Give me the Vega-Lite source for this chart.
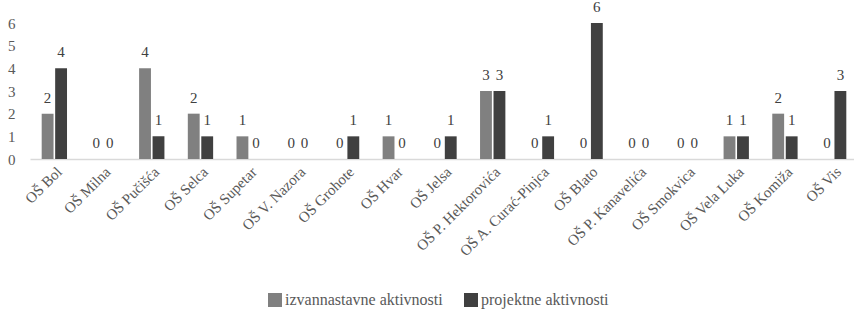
{
  "$schema": "https://vega.github.io/schema/vega-lite/v6.json",
  "width": 824,
  "height": 136,
  "autosize": "none",
  "padding": {"left": 30, "top": 23, "right": 0, "bottom": 152},
  "background": "white",
  "config": {"view": {"stroke": null}, "font": "Liberation Serif"},
  "data": {"values": [
    {"s":"OŠ Bol","t":"izvannastavne aktivnosti","v":2},{"s":"OŠ Bol","t":"projektne aktivnosti","v":4},
    {"s":"OŠ Milna","t":"izvannastavne aktivnosti","v":0},{"s":"OŠ Milna","t":"projektne aktivnosti","v":0},
    {"s":"OŠ Pučišća","t":"izvannastavne aktivnosti","v":4},{"s":"OŠ Pučišća","t":"projektne aktivnosti","v":1},
    {"s":"OŠ Selca","t":"izvannastavne aktivnosti","v":2},{"s":"OŠ Selca","t":"projektne aktivnosti","v":1},
    {"s":"OŠ Supetar","t":"izvannastavne aktivnosti","v":1},{"s":"OŠ Supetar","t":"projektne aktivnosti","v":0},
    {"s":"OŠ V. Nazora","t":"izvannastavne aktivnosti","v":0},{"s":"OŠ V. Nazora","t":"projektne aktivnosti","v":0},
    {"s":"OŠ Grohote","t":"izvannastavne aktivnosti","v":0},{"s":"OŠ Grohote","t":"projektne aktivnosti","v":1},
    {"s":"OŠ Hvar","t":"izvannastavne aktivnosti","v":1},{"s":"OŠ Hvar","t":"projektne aktivnosti","v":0},
    {"s":"OŠ Jelsa","t":"izvannastavne aktivnosti","v":0},{"s":"OŠ Jelsa","t":"projektne aktivnosti","v":1},
    {"s":"OŠ P. Hektorovića","t":"izvannastavne aktivnosti","v":3},{"s":"OŠ P. Hektorovića","t":"projektne aktivnosti","v":3},
    {"s":"OŠ A. Curać-Pinjca","t":"izvannastavne aktivnosti","v":0},{"s":"OŠ A. Curać-Pinjca","t":"projektne aktivnosti","v":1},
    {"s":"OŠ Blato","t":"izvannastavne aktivnosti","v":0},{"s":"OŠ Blato","t":"projektne aktivnosti","v":6},
    {"s":"OŠ P. Kanavelića","t":"izvannastavne aktivnosti","v":0},{"s":"OŠ P. Kanavelića","t":"projektne aktivnosti","v":0},
    {"s":"OŠ Smokvica","t":"izvannastavne aktivnosti","v":0},{"s":"OŠ Smokvica","t":"projektne aktivnosti","v":0},
    {"s":"OŠ Vela Luka","t":"izvannastavne aktivnosti","v":1},{"s":"OŠ Vela Luka","t":"projektne aktivnosti","v":1},
    {"s":"OŠ Komiža","t":"izvannastavne aktivnosti","v":2},{"s":"OŠ Komiža","t":"projektne aktivnosti","v":1},
    {"s":"OŠ Vis","t":"izvannastavne aktivnosti","v":0},{"s":"OŠ Vis","t":"projektne aktivnosti","v":3}
  ]},
  "encoding": {
    "x": {"field": "s", "type": "nominal", "sort": null,
      "scale": {"paddingInner": 0.48, "paddingOuter": 0.24, "range": [0, 828]},
      "axis": {"title": null, "labelAngle": -45, "labelFontSize": 15, "labelColor": "#595959",
        "ticks": false, "domainColor": "#d9d9d9", "domainWidth": 1.5, "labelPadding": 5, "labelLimit": 300}},
    "xOffset": {"field": "t", "type": "nominal", "scale": {"paddingInner": 0.12}},
    "y": {"field": "v", "type": "quantitative",
      "scale": {"domain": [0, 6], "nice": false},
      "axis": {"title": null, "grid": false, "domain": false, "ticks": false, "tickCount": 6,
        "labelFontSize": 15, "labelColor": "#595959", "labelPadding": 15}}
  },
  "layer": [
    {"mark": {"type": "bar"},
     "encoding": {"color": {"field": "t", "type": "nominal",
       "scale": {"range": ["#808080", "#404040"]},
       "legend": {"title": null, "orient": "none", "direction": "horizontal", "legendX": 237, "legendY": 269,
         "symbolType": "square", "symbolSize": 196, "symbolStrokeWidth": 0, "symbolOpacity": 1,
         "labelFontSize": 16, "labelColor": "#595959", "columnPadding": 20, "labelOffset": 2, "labelLimit": 300}}}},
    {"mark": {"type": "text", "baseline": "alphabetic", "dy": -11, "fontSize": 15},
     "encoding": {"text": {"field": "v", "type": "quantitative"}, "color": {"value": "#404040"}}}
  ]
}
